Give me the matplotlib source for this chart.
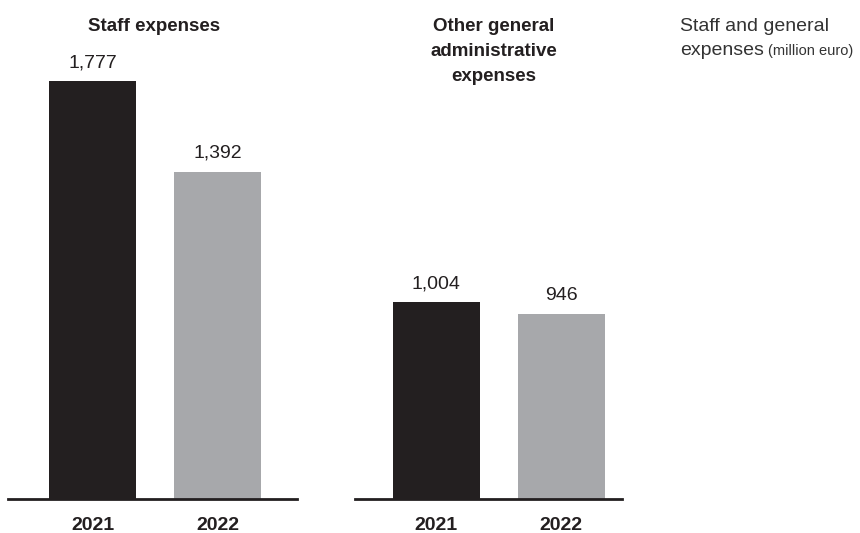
import matplotlib.pyplot as plt

years = ["2021", "2022"]
staff = [1777, 1392]
other = [1004, 946]
panel_titles = ["Staff expenses", "Other general\nadministrative\nexpenses"]

dark = "#231f20"
grey = "#a7a8ab"
plt.rcParams["font.family"] = ["Liberation Sans", "DejaVu Sans"]

W, H = 860, 533
fig = plt.figure(figsize=(W / 100, H / 100), dpi=100)

def px_axes(x0, x1, y_base):
    # axes rectangle in pixel coordinates, from baseline to top of figure
    return fig.add_axes([x0 / W, (H - y_base) / H, (x1 - x0) / W, y_base / H])

ax1 = px_axes(8, 297, 499)
ax2 = px_axes(355, 622, 499)

panels = [
    (ax1, staff, 2121, (-0.676, 1.636), 154),
    (ax2, other, 2546, (-0.648, 1.488), 494),
]

for (ax, vals, ytop, xl, tx), title in zip(panels, panel_titles):
    bars = ax.bar(range(len(years)), vals, width=0.696, color=[dark, grey])
    ax.set_ylim(0, ytop)
    ax.set_xlim(*xl)
    for b, v in zip(bars, vals):
        ax.annotate(f"{v:,}", (b.get_x() + b.get_width() / 2, v),
                    xytext=(0, 10), textcoords="offset points",
                    ha="center", va="baseline", fontsize=14, color=dark)
    for s in ["top", "right", "left"]:
        ax.spines[s].set_visible(False)
    ax.spines["bottom"].set_linewidth(2)
    ax.spines["bottom"].set_color(dark)
    ax.set_yticks([])
    ax.set_xticks(range(len(years)))
    ax.set_xticklabels(years, fontsize=14, fontweight="bold", color=dark)
    ax.tick_params(axis="x", length=0, pad=13)
    fig.text(tx / W, 1 - 18 / H, title, ha="center", va="top",
             fontsize=13.5, fontweight="bold", color=dark, linespacing=1.6)

note = "#333333"
fig.text(680 / W, 1 - 31 / H, "Staff and general", ha="left", va="baseline",
         fontsize=14, color=note)
t = fig.text(680 / W, 1 - 55 / H, "expenses", ha="left", va="baseline",
             fontsize=14, color=note)
fig.canvas.draw()
bb = t.get_window_extent()
fig.text((bb.x1 + 4) / W, 1 - 55 / H, "(million euro)", ha="left", va="baseline",
         fontsize=10.5, color=note)

fig.savefig("out.png", dpi=100)
